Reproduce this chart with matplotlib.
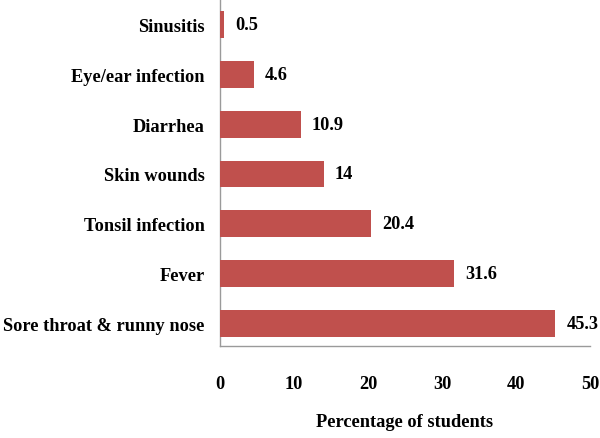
import matplotlib
matplotlib.use("Agg")
import matplotlib.pyplot as plt

categories = ["Sore throat & runny nose", "Fever", "Tonsil infection", "Skin wounds",
              "Diarrhea", "Eye/ear infection", "Sinusitis"]
values = [45.3, 31.6, 20.4, 14, 10.9, 4.6, 0.5]
value_labels = ["45.3", "31.6", "20.4", "14", "10.9", "4.6", "0.5"]
xticks = [0, 10, 20, 30, 40, 50]

plt.rcParams['font.family'] = ['Liberation Serif', 'DejaVu Serif']
plt.rcParams['font.weight'] = 'bold'

fs = 13.2
fig = plt.figure(figsize=(6, 4.39), dpi=100)
ax = fig.add_axes([0.3667, 0.2096, 0.6166, 0.7904])
y = list(range(len(categories)))
ax.barh(y, values, height=0.54, color="#c0504d", zorder=3)
for yi, v, lab in zip(y, values, value_labels):
    ax.text(v + 1.5, yi, lab, va="center", ha="left", fontsize=fs, fontweight="bold")

ax.set_xlim(0, 50)
ax.set_ylim(-0.46, 6.52)
ax.set_yticks(y)
ax.set_yticklabels(categories, fontsize=fs, fontweight="bold")
ax.set_xticks(xticks)
ax.set_xticklabels([str(t) for t in xticks], fontsize=fs, fontweight="bold")
ax.tick_params(axis="both", length=0)
ax.tick_params(axis="y", pad=11)
ax.tick_params(axis="x", pad=21)
ax.set_xlabel("Percentage of students", fontsize=fs, fontweight="bold", labelpad=15)
for s in ["top", "right"]:
    ax.spines[s].set_visible(False)
for s in ["left", "bottom"]:
    ax.spines[s].set_color("#9a9a9a")
    ax.spines[s].set_linewidth(1)

fig.savefig("out.png", dpi=100)
